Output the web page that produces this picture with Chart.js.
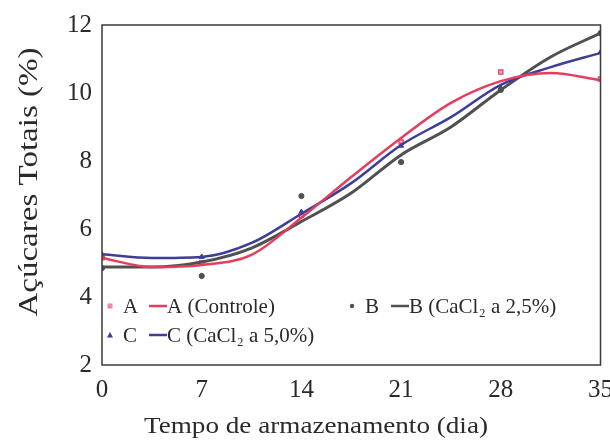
<!DOCTYPE html>
<html>
<head>
<meta charset="utf-8">
<script src="https://cdn.jsdelivr.net/npm/chart.js@4/dist/chart.umd.min.js"></script>
<style>
  html, body { margin: 0; padding: 0; background: #fff; overflow: hidden; }
  #wrap { width: 623px; height: 442px; }
</style>
</head>
<body>
<div id="wrap"><canvas id="myChart" width="623" height="442"></canvas></div>
<script>
// dias de armazenamento (pontos medidos)
const days = [0, 7, 14, 21, 28, 35];
const pointsA = [5.15, 5.0, 6.4, 8.56, 10.62, 10.41];
const pointsB = [4.85, 4.62, 6.97, 7.97, 10.09, 11.76];
const pointsC = [5.24, 5.18, 6.5, 8.45, 10.15, 11.2];

// curvas ajustadas
const fitDays = [0, 3.5, 7, 10.5, 14, 17.5, 21, 24.5, 28, 31.5, 35];
const fitA = [5.15, 4.88, 4.94, 5.24, 6.33, 7.53, 8.68, 9.71, 10.35, 10.59, 10.38];
const fitB = [4.88, 4.88, 5.03, 5.44, 6.22, 7.06, 8.18, 9.0, 10.09, 11.06, 11.76];
const fitC = [5.26, 5.15, 5.18, 5.59, 6.45, 7.35, 8.47, 9.29, 10.24, 10.76, 11.18];

const xTicks = [0, 7, 14, 21, 28, 35];
const yTicks = [2, 4, 6, 8, 10, 12];

const RED = "#e63d5f";
const GRAY = "#505050";
const BLUE = "#3c3d9c";
const TEXT = "#2a2a2a";
const SERIF = "'Liberation Serif', 'DejaVu Serif', serif";

const toXY = (xs, ys) => xs.map((x, i) => ({ x: x, y: ys[i] }));

const legendEntries = [
  { row: 0, col: 0, mark: "A", line: "A (Controle)", color: RED, style: "rect" },
  { row: 0, col: 1, mark: "B", line: "B (CaCl\u2082 a 2,5%)", color: GRAY, style: "circle" },
  { row: 1, col: 0, mark: "C", line: "C (CaCl\u2082 a 5,0%)", color: BLUE, style: "triangle" },
];

// moldura, legenda e titulos dos eixos
const boxAndLegend = {
  id: "boxAndLegend",
  afterDraw(chart) {
    const { ctx, chartArea } = chart;
    ctx.save();
    ctx.strokeStyle = "#3a3a3a";
    ctx.lineWidth = 1.5;
    ctx.strokeRect(chartArea.left, chartArea.top, chartArea.right - chartArea.left, chartArea.bottom - chartArea.top);

    ctx.font = "21px " + SERIF;
    ctx.textBaseline = "middle";
    ctx.textAlign = "left";
    legendEntries.forEach((e) => {
      const x0 = chartArea.left + (e.col === 0 ? 8 : 250);
      const y = chartArea.bottom - 59 + e.row * 29;
      ctx.fillStyle = e.color;
      ctx.strokeStyle = e.color;
      if (e.style === "rect") {
        ctx.fillStyle = "rgba(230, 61, 95, 0.6)";
        ctx.fillRect(x0 - 2.5, y - 2.5, 5, 5);
      } else if (e.style === "circle") {
        ctx.beginPath();
        ctx.arc(x0, y, 2.2, 0, Math.PI * 2);
        ctx.fill();
      } else {
        ctx.beginPath();
        ctx.moveTo(x0, y - 3);
        ctx.lineTo(x0 + 3, y + 2.5);
        ctx.lineTo(x0 - 3, y + 2.5);
        ctx.closePath();
        ctx.fill();
      }
      ctx.fillStyle = TEXT;
      ctx.fillText(e.mark, x0 + 13, y + 1);
      ctx.strokeStyle = e.color;
      ctx.lineWidth = 2.5;
      ctx.beginPath();
      ctx.moveTo(x0 + 39, y);
      ctx.lineTo(x0 + 57, y);
      ctx.stroke();
      ctx.fillStyle = TEXT;
      ctx.fillText(e.line, x0 + 57, y + 1);
    });

    ctx.fillStyle = TEXT;
    ctx.textAlign = "center";
    ctx.textBaseline = "middle";
    ctx.save();
    ctx.translate(30, 182);
    ctx.rotate(-Math.PI / 2);
    ctx.scale(1.18, 1);
    ctx.font = "28px " + SERIF;
    ctx.fillText("Açúcares Totais (%)", 0, 0);
    ctx.restore();

    ctx.save();
    ctx.translate(316, 427);
    ctx.scale(1.18, 1);
    ctx.font = "23px " + SERIF;
    ctx.fillText("Tempo de armazenamento (dia)", 0, 0);
    ctx.restore();
    ctx.restore();
  },
};

const ctx = document.getElementById("myChart").getContext("2d");
const myChart = new Chart(ctx, {
  type: "scatter",
  data: {
    datasets: [
      {
        label: "A (Controle)",
        data: toXY(fitDays, fitA),
        showLine: true,
        borderColor: RED,
        borderWidth: 2.5,
        pointRadius: 0,
        cubicInterpolationMode: "monotone",
      },
      {
        label: "C (CaCl2 a 5,0%)",
        data: toXY(fitDays, fitC),
        showLine: true,
        borderColor: BLUE,
        borderWidth: 2.5,
        pointRadius: 0,
        cubicInterpolationMode: "monotone",
      },
      {
        label: "B (CaCl2 a 2,5%)",
        data: toXY(fitDays, fitB),
        showLine: true,
        borderColor: GRAY,
        borderWidth: 3,
        pointRadius: 0,
        cubicInterpolationMode: "monotone",
      },
      {
        label: "A",
        data: toXY(days, pointsA),
        pointStyle: "rect",
        pointRadius: 3,
        borderColor: RED,
        backgroundColor: "rgba(230, 61, 95, 0.45)",
        borderWidth: 1.2,
      },
      {
        label: "B",
        data: toXY(days, pointsB),
        pointStyle: "circle",
        pointRadius: 2.6,
        borderColor: GRAY,
        backgroundColor: GRAY,
      },
      {
        label: "C",
        data: toXY(days, pointsC),
        pointStyle: "triangle",
        pointRadius: 3,
        borderColor: BLUE,
        backgroundColor: BLUE,
      },
    ],
  },
  options: {
    responsive: false,
    animation: false,
    layout: { padding: { top: 25, right: 0, left: 57, bottom: 27 } },
    plugins: {
      legend: { display: false },
      tooltip: { enabled: false },
    },
    scales: {
      x: {
        type: "linear",
        min: 0,
        max: 35,
        afterBuildTicks: (axis) => { axis.ticks = xTicks.map((v) => ({ value: v })); },
        grid: { display: false, drawTicks: false },
        border: { display: false },
        ticks: { color: TEXT, font: { family: SERIF, size: 25 }, padding: 10, maxRotation: 0 },
      },
      y: {
        min: 2,
        max: 12,
        afterBuildTicks: (axis) => { axis.ticks = yTicks.map((v) => ({ value: v })); },
        grid: { display: false, drawTicks: false },
        border: { display: false },
        ticks: { color: TEXT, font: { family: SERIF, size: 25 }, padding: 10 },
      },
    },
  },
  plugins: [boxAndLegend],
});
</script>
</body>
</html>
